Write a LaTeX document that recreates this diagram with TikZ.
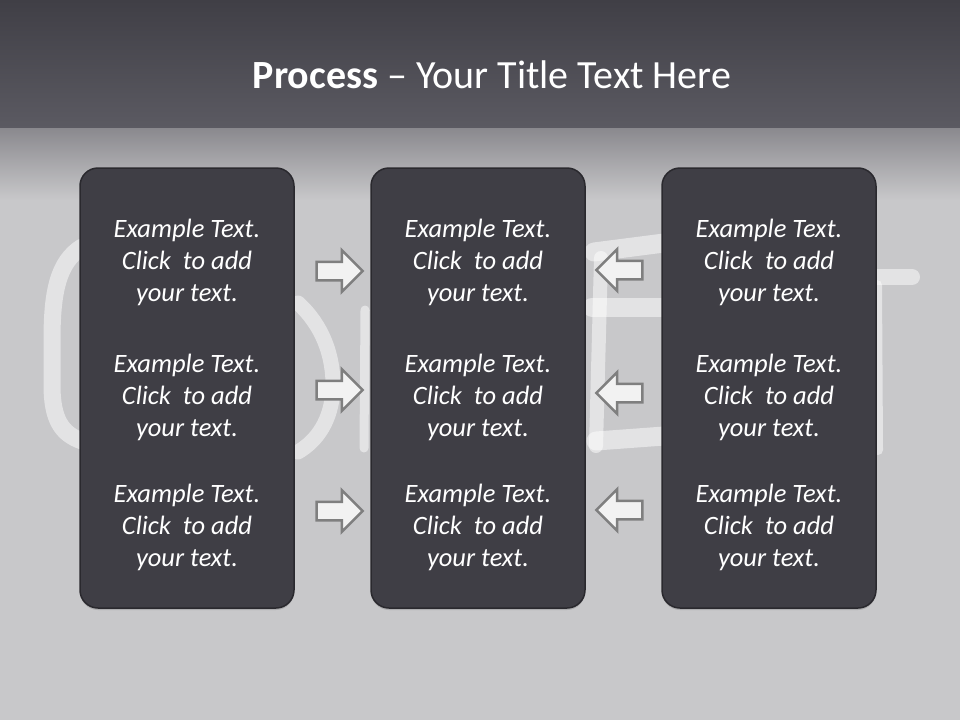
\documentclass[tikz,border=0pt]{standalone}
\usepackage{fontspec}
\setmainfont{Carlito}
\usetikzlibrary{shapes.arrows,shadows}
\definecolor{bandtop}{HTML}{403F46}
\definecolor{bandbot}{HTML}{5B5A62}
\definecolor{fadetop}{HTML}{8A898E}
\definecolor{backgray}{HTML}{C8C8CA}
\definecolor{panelfill}{HTML}{3F3E45}
\definecolor{panelline}{HTML}{2A292E}
\definecolor{arrowline}{HTML}{7F7F7F}
\definecolor{arrowfill}{HTML}{F2F2F2}
\begin{document}
\begin{tikzpicture}[x=1pt,y=-1pt,
    panel/.style={draw=panelline, line width=1.5pt, fill=panelfill, rounded corners=18pt,
        minimum width=214pt, minimum height=440pt,
        drop shadow={opacity=0.35, shadow xshift=0pt, shadow yshift=-2pt}},
    txt/.style={text=white, align=center, font=\itshape\fontsize{26.5}{32}\selectfont},
    rarrow/.style={shape=single arrow, draw=arrowline, fill=arrowfill, line width=2.5pt,
        inner xsep=0pt, inner ysep=8pt, minimum height=46pt, minimum width=41pt,
        single arrow head extend=11.5pt},
    larrow/.style={rarrow, shape border rotate=180},
    chalk/.style={draw=white, opacity=0.5, line cap=round, line join=round}]
    \useasboundingbox (0,0) rectangle (960,720);
    % Background
    \fill[backgray] (0,0) rectangle (960,720);
    \shade[top color=bandtop, bottom color=bandbot] (0,0) rectangle (960,128);
    \shade[top color=fadetop, bottom color=backgray] (0,128) rectangle (960,200);
    
    % Chalk letters behind the panels
    \draw[chalk, line width=17pt] (82,247) .. controls (58,262) and (52,292) .. (52,340)
        -- (52,385) .. controls (52,420) and (62,434) .. (82,441);
    \draw[chalk, line width=15pt] (298,303) .. controls (322,325) and (334,355) .. (333,390)
        .. controls (331,420) and (318,440) .. (298,452);
    \draw[chalk, line width=9pt] (365,310) -- (364,448);
    \draw[chalk, line width=14pt] (601,258) -- (596,446);
    \draw[chalk, line width=19pt] (594,252) -- (664,243);
    \draw[chalk, line width=19pt] (592,307) -- (664,307);
    \draw[chalk, line width=19pt] (596,441) -- (664,436);
    \draw[chalk, line width=16pt] (868,277) -- (912,277);
    \draw[chalk, line width=10pt] (877,285) -- (878,450);
    
    % Title
    \node[anchor=base, text=white, font=\fontsize{40}{46}\selectfont] (title) at (492,88)
        {\textbf{Process} -- Your Title Text Here};
    
    % Panels
    \node[panel] (p1) at (187,388) {};
    \node[panel] (p2) at (478,388) {};
    \node[panel] (p3) at (769,388) {};
    
    % Texts
    \foreach \p/\x in {1/187, 2/478, 3/769} {
        \foreach \r/\y in {1/262, 2/397, 3/527} {
            \node[txt] (t\p\r) at (\x,\y) {Example Text.\\Click\ \ to add\\your text.};
        }
    }
    
    % Arrows into the middle
    \node[rarrow] (a11) at (335,271) {};
    \node[rarrow] (a12) at (335,390) {};
    \node[rarrow] (a13) at (335,511) {};
    \node[larrow] (a31) at (624,270) {};
    \node[larrow] (a32) at (624,393) {};
    \node[larrow] (a33) at (624,510) {};
\end{tikzpicture}
\end{document}
